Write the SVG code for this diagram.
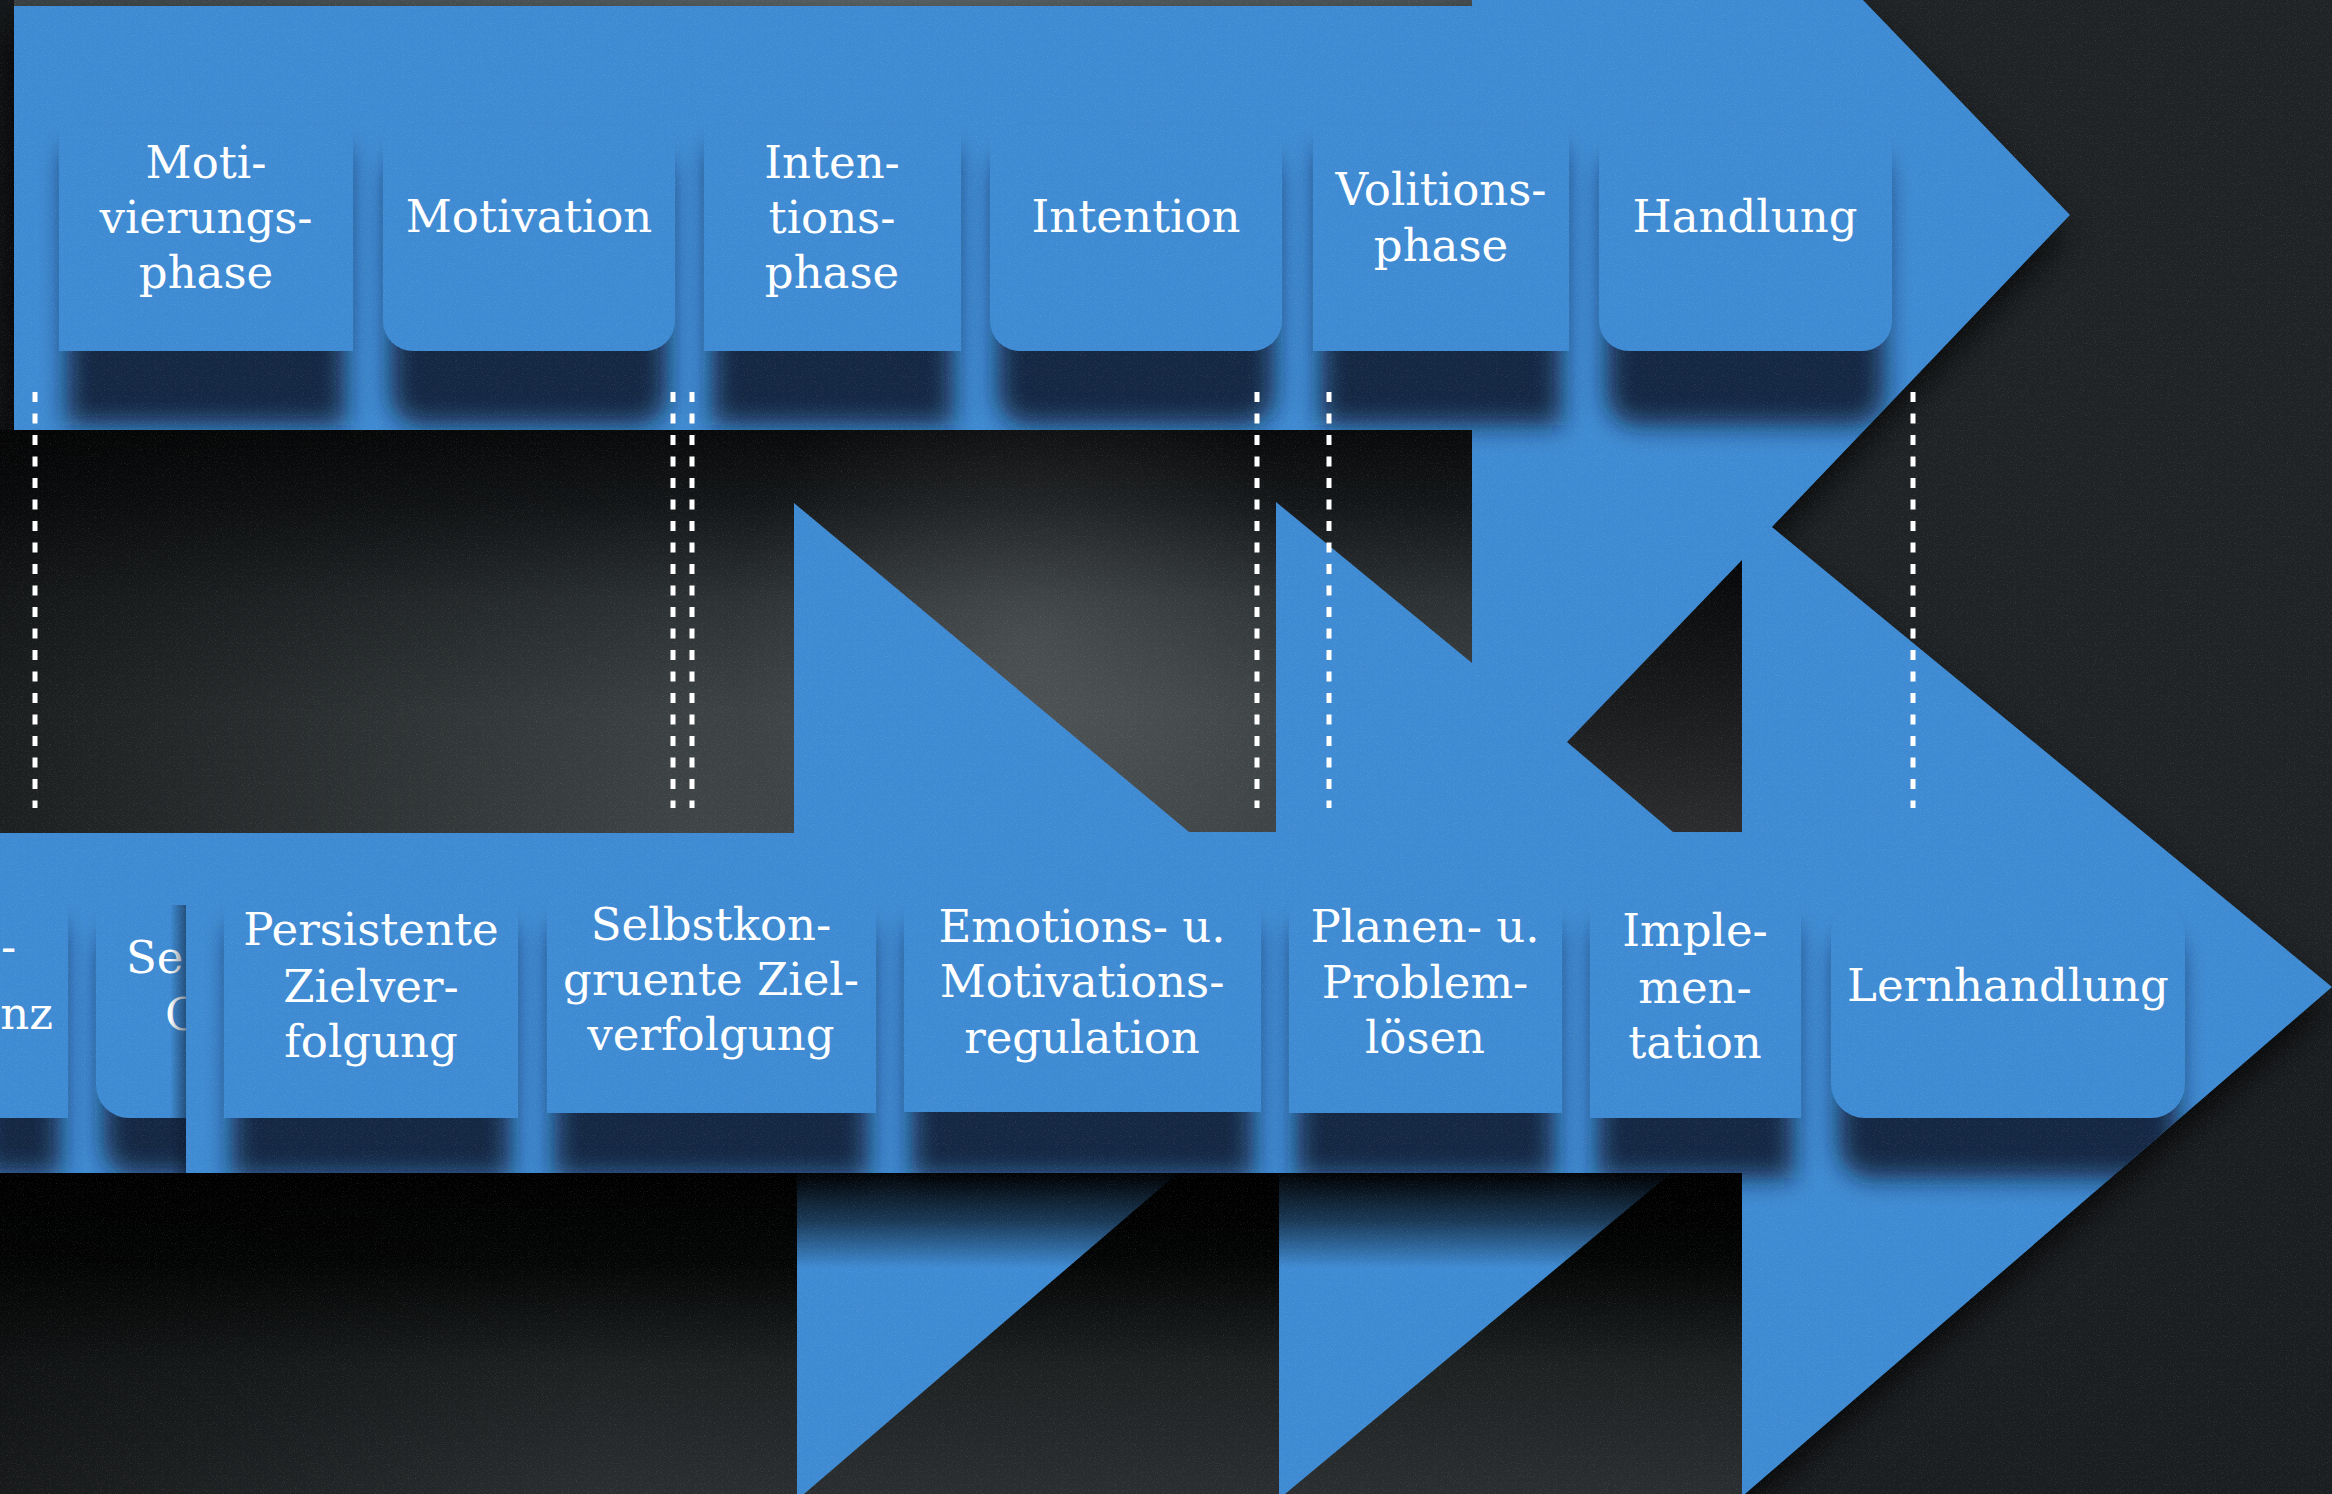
<svg xmlns="http://www.w3.org/2000/svg" width="2332" height="1494" viewBox="0 0 2332 1494">
<defs>
<style>
.blue{fill:#3f8bd3}
.sh{fill:#091829;opacity:0.85;filter:url(#blurSh)}
.t{font-family:"DejaVu Serif","Liberation Serif",serif;font-size:45px;fill:#ffffff;text-anchor:middle}
.tl{font-family:"DejaVu Serif","Liberation Serif",serif;font-size:45px;fill:#ffffff}
.dash{stroke:#ffffff;stroke-width:5;stroke-dasharray:10 11.5;fill:none}
</style>
<filter id="blurSh" x="-30%" y="-30%" width="160%" height="160%"><feGaussianBlur stdDeviation="13"/></filter>
<filter id="blur16" x="-10%" y="-10%" width="120%" height="120%"><feGaussianBlur stdDeviation="18"/></filter>
<filter id="grain" x="0" y="0" width="100%" height="100%">
<feTurbulence type="fractalNoise" baseFrequency="0.85" numOctaves="2" seed="7" stitchTiles="stitch"/>
<feColorMatrix type="matrix" values="0 0 0 0 1  0 0 0 0 1  0 0 0 0 1  2.2 0 0 0 -1.15"/>
</filter>
<polygon id="bluePoly" points="14,6 1472,6 1472,0 1863,0 2070,215 1772,527 2332,987 1745,1494 0,1494 0,430 14,430"/>
<polygon id="midPoly" points="0,430 1472,430 1472,663 1276,502 1276,832 1189,832 794,503 794,833 0,833"/>
<clipPath id="clipBlue"><use href="#bluePoly"/></clipPath>
<linearGradient id="gMid" gradientUnits="userSpaceOnUse" x1="0" y1="430" x2="0" y2="833">
<stop offset="0" stop-color="#08090a"/><stop offset="0.18" stop-color="#131618"/><stop offset="0.42" stop-color="#2c3133"/><stop offset="0.7" stop-color="#3c4244"/><stop offset="1" stop-color="#3f4547"/>
</linearGradient>
<linearGradient id="gMidH" gradientUnits="userSpaceOnUse" x1="0" y1="0" x2="700" y2="0">
<stop offset="0" stop-color="#000" stop-opacity="0.55"/><stop offset="1" stop-color="#000" stop-opacity="0"/>
</linearGradient>
<radialGradient id="gHi" gradientUnits="userSpaceOnUse" cx="1030" cy="640" r="300">
<stop offset="0" stop-color="#fff" stop-opacity="0.11"/><stop offset="1" stop-color="#fff" stop-opacity="0"/>
</radialGradient>
<linearGradient id="gBot" gradientUnits="userSpaceOnUse" x1="0" y1="1172" x2="0" y2="1494">
<stop offset="0" stop-color="#000"/><stop offset="0.28" stop-color="#040505"/><stop offset="0.6" stop-color="#1d2122"/><stop offset="1" stop-color="#2a2e30"/>
</linearGradient>
<linearGradient id="gBotH" gradientUnits="userSpaceOnUse" x1="0" y1="0" x2="600" y2="0">
<stop offset="0" stop-color="#000" stop-opacity="0.45"/><stop offset="1" stop-color="#000" stop-opacity="0"/>
</linearGradient>
<linearGradient id="gColSh" gradientUnits="userSpaceOnUse" x1="0" y1="1172" x2="0" y2="1268">
<stop offset="0" stop-color="#000" stop-opacity="0.97"/><stop offset="0.5" stop-color="#000" stop-opacity="0.6"/><stop offset="1" stop-color="#000" stop-opacity="0"/>
</linearGradient>
<linearGradient id="gNotch" gradientUnits="userSpaceOnUse" x1="0" y1="560" x2="0" y2="832">
<stop offset="0" stop-color="#060708"/><stop offset="1" stop-color="#2a2c2e"/>
</linearGradient>
<linearGradient id="gTop" gradientUnits="userSpaceOnUse" x1="0" y1="0" x2="1472" y2="0">
<stop offset="0" stop-color="#3c4446"/><stop offset="0.6" stop-color="#5a6365"/><stop offset="1" stop-color="#4a5254"/>
</linearGradient>
<linearGradient id="gFrontSh" gradientUnits="userSpaceOnUse" x1="170" y1="0" x2="188" y2="0">
<stop offset="0" stop-color="#0a1a2e" stop-opacity="0"/><stop offset="1" stop-color="#0a1a2e" stop-opacity="0.6"/>
</linearGradient>
</defs>

<g id="background">
<rect x="0" y="0" width="2332" height="1494" fill="#1f2326"/>
<rect x="0" y="0" width="1472" height="10" fill="url(#gTop)"/>
<rect x="0" y="0" width="14" height="440" fill="#15181a"/>
<polygon points="2332,987 2332,1494 1745,1494" fill="#1b1e21"/>
<use href="#bluePoly" fill="#000" opacity="0.85" filter="url(#blur16)" transform="translate(-8,20)"/>
</g>

<g id="arrows">
<use href="#bluePoly" class="blue"/>
</g>

<g id="top-shadows" clip-path="url(#clipBlue)">
<rect class="sh" x="67" y="150" width="278" height="275"/>
<rect class="sh" x="391" y="150" width="276" height="275" rx="30"/>
<rect class="sh" x="712" y="150" width="241" height="275"/>
<rect class="sh" x="998" y="150" width="276" height="275" rx="30"/>
<rect class="sh" x="1321" y="150" width="240" height="275"/>
<rect class="sh" x="1607" y="150" width="277" height="275" rx="30"/>
</g>

<g id="n-motivierungsphase">
<rect class="blue" x="59" y="125" width="294" height="226"/>
<text class="t"><tspan x="206" y="178">Moti-</tspan><tspan x="206" y="233">vierungs-</tspan><tspan x="206" y="288">phase</tspan></text>
</g>
<g id="n-motivation">
<path class="blue" d="M383,125 H675 V321 A30,30 0 0 1 645,351 H413 A30,30 0 0 1 383,321 Z"/>
<text class="t" x="529" y="232">Motivation</text>
</g>
<g id="n-intentionsphase">
<rect class="blue" x="704" y="125" width="257" height="226"/>
<text class="t"><tspan x="832" y="178">Inten-</tspan><tspan x="832" y="233">tions-</tspan><tspan x="832" y="288">phase</tspan></text>
</g>
<g id="n-intention">
<path class="blue" d="M990,125 H1282 V321 A30,30 0 0 1 1252,351 H1020 A30,30 0 0 1 990,321 Z"/>
<text class="t" x="1136" y="232">Intention</text>
</g>
<g id="n-volitionsphase">
<rect class="blue" x="1313" y="125" width="256" height="226"/>
<text class="t"><tspan x="1441" y="205">Volitions-</tspan><tspan x="1441" y="261">phase</tspan></text>
</g>
<g id="n-handlung">
<path class="blue" d="M1599,125 H1892 V321 A30,30 0 0 1 1862,351 H1629 A30,30 0 0 1 1599,321 Z"/>
<text class="t" x="1745" y="232">Handlung</text>
</g>

<g id="gaps">
<use href="#midPoly" fill="url(#gMid)"/>
<use href="#midPoly" fill="url(#gMidH)"/>
<use href="#midPoly" fill="url(#gHi)"/>
<polygon points="1567,742 1742,560 1742,832 1673,832" fill="url(#gNotch)"/>
</g>

<g id="back-shadows" clip-path="url(#clipBlue)">
<rect class="sh" x="-20" y="925" width="80" height="250"/>
<rect class="sh" x="104" y="925" width="200" height="250" rx="30"/>
</g>
<g id="n-back-1">
<rect class="blue" x="-10" y="897" width="78" height="221"/>
<text class="tl" x="1" y="962">-</text>
<text class="tl" x="53" y="1029" text-anchor="end">nz</text>
</g>
<g id="n-back-2">
<path class="blue" d="M96,897 H320 V1118 H129 A33,33 0 0 1 96,1085 Z"/>
<text class="tl" x="126" y="973">Se</text>
<text class="tl" x="165" y="1030">C</text>
</g>

<g id="front-band">
<rect x="166" y="905" width="22" height="269" fill="url(#gFrontSh)"/>
<rect class="blue" x="186" y="895" width="1556" height="279"/>
</g>

<g id="bottom-shadows" clip-path="url(#clipBlue)">
<rect class="sh" x="232" y="928" width="278" height="250"/>
<rect class="sh" x="555" y="928" width="313" height="250"/>
<rect class="sh" x="912" y="928" width="341" height="250"/>
<rect class="sh" x="1297" y="928" width="257" height="250"/>
<rect class="sh" x="1598" y="928" width="195" height="250"/>
<rect class="sh" x="1839" y="928" width="338" height="250" rx="32"/>
</g>

<g id="n-persistente">
<rect class="blue" x="224" y="900" width="294" height="218"/>
<text class="t"><tspan x="371" y="945">Persistente</tspan><tspan x="371" y="1002">Zielver-</tspan><tspan x="371" y="1057">folgung</tspan></text>
</g>
<g id="n-selbstkongruente">
<rect class="blue" x="547" y="900" width="329" height="213"/>
<text class="t"><tspan x="711" y="940">Selbstkon-</tspan><tspan x="711" y="995">gruente Ziel-</tspan><tspan x="711" y="1050">verfolgung</tspan></text>
</g>
<g id="n-emotionsregulation">
<rect class="blue" x="904" y="900" width="357" height="212"/>
<text class="t"><tspan x="1082" y="942">Emotions- u.</tspan><tspan x="1082" y="997">Motivations-</tspan><tspan x="1082" y="1053">regulation</tspan></text>
</g>
<g id="n-planen">
<rect class="blue" x="1289" y="900" width="273" height="213"/>
<text class="t"><tspan x="1425" y="942">Planen- u.</tspan><tspan x="1425" y="998">Problem-</tspan><tspan x="1425" y="1053">lösen</tspan></text>
</g>
<g id="n-implementation">
<rect class="blue" x="1590" y="900" width="211" height="218"/>
<text class="t"><tspan x="1695" y="946">Imple-</tspan><tspan x="1695" y="1003">men-</tspan><tspan x="1695" y="1058">tation</tspan></text>
</g>
<g id="n-lernhandlung">
<rect class="blue" x="1831" y="900" width="354" height="218" rx="34"/>
<text class="t" x="2008" y="1001">Lernhandlung</text>
</g>

<g id="lower-gaps">
<polygon points="0,1173 797,1173 797,1494 0,1494" fill="url(#gBot)"/>
<polygon points="0,1173 797,1173 797,1494 0,1494" fill="url(#gBotH)"/>
<polygon points="1178,1173 1279,1173 1279,1494 804,1494" fill="url(#gBot)"/>
<polygon points="1671,1173 1742,1173 1742,1494 1285,1494" fill="url(#gBot)"/>
<rect x="797" y="1173" width="945" height="95" fill="url(#gColSh)"/>
</g>

<g id="connectors">
<line class="dash" x1="35" y1="392" x2="35" y2="808"/>
<line class="dash" x1="673" y1="392" x2="673" y2="808"/>
<line class="dash" x1="692" y1="392" x2="692" y2="808"/>
<line class="dash" x1="1257" y1="392" x2="1257" y2="808"/>
<line class="dash" x1="1329" y1="392" x2="1329" y2="808"/>
<line class="dash" x1="1913" y1="392" x2="1913" y2="808"/>
</g>

<rect id="grain-overlay" x="0" y="0" width="2332" height="1494" filter="url(#grain)" opacity="0.12"/>
</svg>
